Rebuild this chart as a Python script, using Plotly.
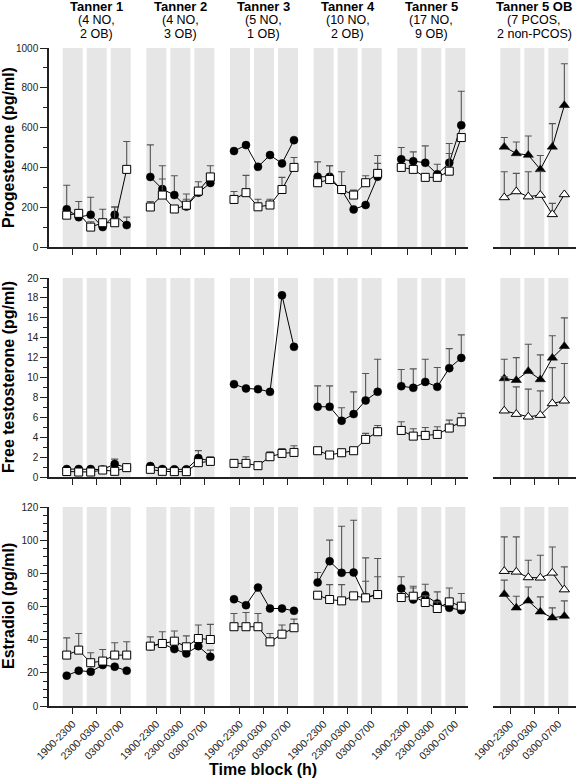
import plotly.graph_objects as go

# ---------------- data ----------------
time_blocks = ["1900-2300", "2300-0300", "0300-0700"]
groups = ["Tanner 1", "Tanner 2", "Tanner 3", "Tanner 4", "Tanner 5"]
group_line2 = ["(4 NO,", "(4 NO,", "(5 NO,", "(10 NO,", "(17 NO,"]
group_line3 = ["2 OB)", "3 OB)", "1 OB)", "2 OB)", "9 OB)"]
ob_title = "Tanner 5 OB"
ob_line2 = "(7 PCOS,"
ob_line3 = "2 non-PCOS)"
hormones = ["Progesterone (pg/ml)", "Free testosterone (pg/ml)", "Estradiol (pg/ml)"]
x_title = "Time block (h)"

# Progesterone (pg/ml): OB = filled circles, NO = open squares
prog_ob = [[190, 150, 162, 100, 162, 110],
           [352, 291, 261, 203, 273, 322],
           [482, 512, 403, 462, 420, 537],
           [353, 353, 286, 189, 211, 353],
           [441, 431, 423, 366, 423, 612]]
prog_ob_err = [[120, 0, 88, 90, 40, 40],
               [161, 117, 97, 63, 0, 0],
               [0, 0, 0, 0, 0, 0],
               [75, 55, 92, 0, 0, 107],
               [59, 47, 85, 50, 97, 171]]
prog_no = [[160, 169, 100, 122, 122, 390],
           [201, 261, 191, 210, 281, 352],
           [239, 273, 202, 211, 289, 400],
           [323, 339, 289, 261, 323, 370],
           [400, 390, 350, 350, 381, 550]]
prog_no_err = [[0, 60, 27, 0, 78, 140],
               [27, 81, 0, 30, 47, 56],
               [40, 87, 38, 29, 61, 50],
               [0, 69, 0, 25, 35, 50],
               [0, 0, 0, 0, 89, 0]]
prog_pcos = [503, 470, 462, 390, 503, 712]
prog_pcos_err = [47, 58, 96, 70, 117, 209]
prog_nonpcos = [249, 279, 253, 261, 164, 264]
prog_nonpcos_err = [129, 91, 125, 120, 55, 0]

# Free testosterone (pg/ml)
testo_ob = [[0.8, 0.8, 0.8, 0.75, 1.3, 0.95],
            [1.1, 0.8, 0.77, 0.77, 1.9, 1.6],
            [9.33, 8.9, 8.83, 8.56, 18.26, 13.08],
            [7.06, 7.06, 5.65, 6.32, 7.69, 8.56],
            [9.13, 8.96, 9.56, 9.06, 10.94, 11.97]]
testo_ob_err = [[0, 0, 0, 0, 0.5, 0],
                [0.2, 0, 0, 0, 0.75, 0],
                [0, 0, 0, 0, 0, 0],
                [2.1, 2.1, 1.31, 2.24, 2.71, 3.28],
                [1.67, 1.91, 2.28, 1.94, 1.96, 2.31]]
testo_no = [[0.55, 0.5, 0.5, 0.7, 0.57, 0.94],
            [0.77, 0.57, 0.54, 0.54, 1.44, 1.57],
            [1.37, 1.37, 1.14, 2.04, 2.37, 2.47],
            [2.64, 2.21, 2.44, 2.64, 3.78, 4.55],
            [4.68, 4.11, 4.18, 4.28, 4.92, 5.55]]
testo_no_err = [[0, 0, 0, 0, 0, 0],
                [0, 0, 0, 0, 0, 0.45],
                [0.33, 0.67, 0, 0.5, 0.5, 0.67],
                [0, 0, 0, 0, 0.6, 0.63],
                [0.87, 0.74, 0.8, 0.77, 0.8, 0.84]]
testo_pcos = [9.9, 9.73, 10.64, 9.8, 11.97, 13.14]
testo_pcos_err = [1.94, 2.27, 2.7, 2.47, 2.23, 2.85]
testo_nonpcos = [6.66, 6.32, 6.05, 6.22, 7.39, 7.66]
testo_nonpcos_err = [3.4, 2.74, 2.78, 2.44, 3.6, 3.74]

# Estradiol (pg/ml)
e2_ob = [[18.3, 21.3, 20.7, 24.7, 23.7, 21.3],
         [36.1, 37.7, 34.3, 31.7, 36.1, 29.7],
         [64.4, 60.8, 71.4, 58.8, 58.8, 57.4],
         [74.5, 87.3, 80.3, 80.5, 65.4, 67.4],
         [70.8, 64.2, 66.8, 61.8, 59.2, 57.8]]
e2_ob_err = [[0, 0, 0, 0, 0, 0],
             [0, 0, 0, 0, 0, 4],
             [0, 0, 0, 0, 0, 0],
             [6, 12.7, 28.1, 31.5, 23.9, 21.5],
             [7.1, 8, 6.6, 7, 12, 10]]
e2_no = [[30.7, 33.7, 26.1, 27.1, 30.7, 30.7],
         [36.1, 37.7, 39.1, 35.7, 40.7, 40.1],
         [47.8, 47.8, 47.8, 38.7, 43.3, 47.2],
         [66.8, 64.2, 63.4, 66.4, 65.2, 67.2],
         [65.4, 66.2, 62.4, 58.8, 62.8, 60.2]]
e2_no_err = [[10.4, 10, 6, 7, 7.4, 8],
             [5.6, 7.1, 6.1, 6.6, 8.1, 9.1],
             [8, 8.6, 8, 5, 5.5, 5.2],
             [0, 9, 9.8, 0, 10, 10.7],
             [0, 5, 4, 4, 0, 0]]
e2_pcos = [67.4, 59.2, 63.4, 56.8, 53.2, 54.2]
e2_pcos_err = [8.5, 7, 8.4, 9, 6, 9.2]
e2_nonpcos = [81.3, 80.9, 77.5, 77.3, 80.3, 70.2]
e2_nonpcos_err = [20.7, 21.1, 10.4, 13.6, 15.6, 13.7]

y_max = [1000, 20, 120]
y_dtick = [200, 2, 20]
y_minor = [100, 1, 5]

# ---------------- layout geometry ----------------
W, H = 576, 781
GROUP_STEP = 6.97
row_px = [(48, 247), (278, 477), (507, 706)]
main_px = (49, 468)
ob_px = (493, 576)
main_range = [-1.475, 33.44]
ob_range = [-0.94, 5.97]

FONT = "Liberation Sans, Arial, sans-serif"
BAND = "#e6e6e6"
AX = "#222222"
ERR = "#555555"

rows = [
    (prog_ob, prog_ob_err, prog_no, prog_no_err, prog_pcos, prog_pcos_err, prog_nonpcos, prog_nonpcos_err),
    (testo_ob, testo_ob_err, testo_no, testo_no_err, testo_pcos, testo_pcos_err, testo_nonpcos, testo_nonpcos_err),
    (e2_ob, e2_ob_err, e2_no, e2_no_err, e2_pcos, e2_pcos_err, e2_nonpcos, e2_nonpcos_err),
]

fig = go.Figure()
shapes = []
annotations = []


def err(arr):
    return dict(type="data", array=arr, arrayminus=[0] * len(arr), symmetric=False,
                color=ERR, thickness=1.1, width=3.5)


tick_main = [GROUP_STEP * g + 2 * k + 0.5 for g in range(len(groups)) for k in range(3)]
tick_main_text = [time_blocks[k] for g in range(len(groups)) for k in range(3)]
tick_ob = [2 * k + 0.5 for k in range(3)]

for r, (ob, ob_e, no, no_e, pc, pc_e, npc, npc_e) in enumerate(rows):
    xm = "x" if r == 0 else f"x{2 * r + 1}"
    ym = "y" if r == 0 else f"y{2 * r + 1}"
    xo = f"x{2 * r + 2}"
    yo = f"y{2 * r + 2}"
    for g in range(len(groups)):
        xs = [GROUP_STEP * g + k for k in range(6)]
        fig.add_trace(go.Scatter(
            x=xs, y=ob[g], xaxis=xm, yaxis=ym, mode="lines+markers",
            line=dict(color="black", width=1),
            marker=dict(symbol="circle", size=8, color="black", line=dict(color="black", width=0.5)),
            error_y=err(ob_e[g]), showlegend=False))
        fig.add_trace(go.Scatter(
            x=xs, y=no[g], xaxis=xm, yaxis=ym, mode="lines+markers",
            line=dict(color="black", width=1),
            marker=dict(symbol="square", size=8, color="white", line=dict(color="black", width=1)),
            error_y=err(no_e[g]), showlegend=False))
        for k in range(3):
            shapes.append(dict(type="rect", xref=xm, yref=f"{ym} domain",
                               x0=GROUP_STEP * g + 2 * k - 1 / 3, x1=GROUP_STEP * g + 2 * k + 4 / 3,
                               y0=0, y1=1, fillcolor=BAND, line=dict(width=0), layer="below"))
    xs = list(range(6))
    fig.add_trace(go.Scatter(
        x=xs, y=pc, xaxis=xo, yaxis=yo, mode="lines+markers",
        line=dict(color="black", width=1),
        marker=dict(symbol="triangle-up", size=9, color="black", line=dict(color="black", width=0.5)),
        error_y=err(pc_e), showlegend=False))
    fig.add_trace(go.Scatter(
        x=xs, y=npc, xaxis=xo, yaxis=yo, mode="lines+markers",
        line=dict(color="black", width=1),
        marker=dict(symbol="triangle-up", size=9, color="white", line=dict(color="black", width=1)),
        error_y=err(npc_e), showlegend=False))
    for k in range(3):
        shapes.append(dict(type="rect", xref=xo, yref=f"{yo} domain",
                           x0=2 * k - 1 / 3, x1=2 * k + 4 / 3,
                           y0=0, y1=1, fillcolor=BAND, line=dict(width=0), layer="below"))

    top, bot = row_px[r]
    ydom = [1 - bot / H, 1 - top / H]
    bottom_row = (r == len(rows) - 1)
    xcommon = dict(showline=True, linecolor=AX, linewidth=1.5, ticks="outside", ticklen=6,
                   tickwidth=1.2, tickcolor=AX, showgrid=False, zeroline=False,
                   tickmode="array", showticklabels=bottom_row, tickangle=-45,
                   tickfont=dict(family=FONT, size=10.5, color=AX))
    fig.layout[("xaxis" if r == 0 else f"xaxis{2 * r + 1}")] = dict(
        xcommon, domain=[main_px[0] / W, main_px[1] / W], range=main_range, anchor=ym,
        tickvals=tick_main, ticktext=tick_main_text)
    fig.layout[f"xaxis{2 * r + 2}"] = dict(
        xcommon, domain=[ob_px[0] / W, ob_px[1] / W], range=ob_range, anchor=yo,
        tickvals=tick_ob, ticktext=time_blocks)
    fig.layout[("yaxis" if r == 0 else f"yaxis{2 * r + 1}")] = dict(
        domain=ydom, range=[0, y_max[r]], anchor=xm, showline=True, linecolor=AX, linewidth=1.5,
        ticks="outside", ticklen=7, tickwidth=1.2, tickcolor=AX, dtick=y_dtick[r], tick0=0,
        showgrid=False, zeroline=False, tickfont=dict(family=FONT, size=10, color=AX),
        minor=dict(dtick=y_minor[r], ticks="outside", ticklen=4, tickwidth=1, tickcolor=AX,
                   showgrid=False))
    fig.layout[f"yaxis{2 * r + 2}"] = dict(
        domain=ydom, range=[0, y_max[r]], anchor=xo, visible=False, showgrid=False, zeroline=False)

    annotations.append(dict(text=f"<b>{hormones[r]}</b>", xref="paper", yref="paper",
                            x=8.5 / W, y=1 - (top + bot) / 2 / H, textangle=-90,
                            showarrow=False, xanchor="center", yanchor="middle",
                            font=dict(family=FONT, size=16, color="black")))

# group titles
for g in range(len(groups)):
    cx = GROUP_STEP * g + 2.5
    annotations.append(dict(text=f"<b>{groups[g]}</b>", xref="x", yref="paper", x=cx, y=1 - 6.5 / H,
                            showarrow=False, xanchor="center", yanchor="middle",
                            font=dict(family=FONT, size=13, color="black")))
    annotations.append(dict(text=group_line2[g], xref="x", yref="paper", x=cx, y=1 - 20.5 / H,
                            showarrow=False, xanchor="center", yanchor="middle",
                            font=dict(family=FONT, size=12.5, color="black")))
    annotations.append(dict(text=group_line3[g], xref="x", yref="paper", x=cx, y=1 - 34 / H,
                            showarrow=False, xanchor="center", yanchor="middle",
                            font=dict(family=FONT, size=12.5, color="black")))
annotations.append(dict(text=f"<b>{ob_title}</b>", xref="x2", yref="paper", x=2.5, y=1 - 6.5 / H,
                        showarrow=False, xanchor="center", yanchor="middle",
                        font=dict(family=FONT, size=13, color="black")))
annotations.append(dict(text=ob_line2, xref="x2", yref="paper", x=2.5, y=1 - 20.5 / H,
                        showarrow=False, xanchor="center", yanchor="middle",
                        font=dict(family=FONT, size=12.5, color="black")))
annotations.append(dict(text=ob_line3, xref="x2", yref="paper", x=2.5, y=1 - 34 / H,
                        showarrow=False, xanchor="center", yanchor="middle",
                        font=dict(family=FONT, size=12.5, color="black")))
annotations.append(dict(text=f"<b>{x_title}</b>", xref="paper", yref="paper", x=263 / W, y=1 - 769 / H,
                        showarrow=False, xanchor="center", yanchor="middle",
                        font=dict(family=FONT, size=16, color="black")))

fig.update_layout(width=W, height=H, margin=dict(l=0, r=0, t=0, b=0, autoexpand=False),
                  paper_bgcolor="white", plot_bgcolor="white",
                  shapes=shapes, annotations=annotations, showlegend=False,
                  font=dict(family=FONT, color="black"))

fig.write_html("out.html", config={"displayModeBar": False},
               post_script="document.body.style.margin='0';document.body.style.padding='0';"
                           "document.body.style.overflow='hidden';")
